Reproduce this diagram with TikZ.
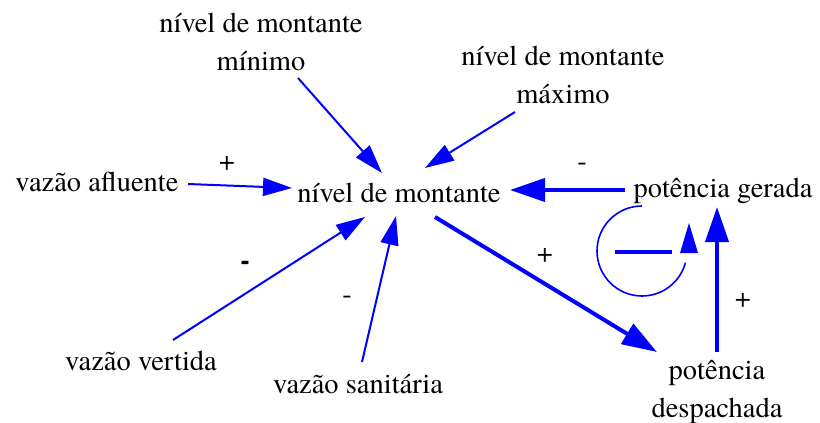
\documentclass[tikz,border=0pt]{standalone}
\usepackage{fontspec}
\setmainfont{texgyretermes-regular.otf}[BoldFont=texgyretermes-bold.otf]
\usetikzlibrary{arrows.meta,calc}
\begin{document}
\begin{tikzpicture}[x=1pt,y=-1pt,
  lbl/.style={inner sep=0pt,font=\fontsize{28.5}{38}\selectfont,text height=19pt,text depth=6pt},
  lbl2/.style={inner sep=0pt,font=\fontsize{28.5}{38}\selectfont,align=center},
  sgn/.style={inner sep=0pt,font=\fontsize{28.5}{34}\selectfont},
  thinarr/.style={draw=blue,line width=2pt,-{Triangle[length=29pt,width=18pt]}},
  thickarr/.style={draw=blue,line width=4pt,-{Triangle[length=35pt,width=23pt]}}]
\useasboundingbox (0,0) rectangle (820,423);
% nodes
\node[lbl] (M) at (399,195.5) {nível de montante};
\node[lbl2] (min) at (261,42) {nível de montante\\mínimo};
\node[lbl2] (max) at (563,75) {nível de montante\\máximo};
\node[lbl] (af) at (97,184.5) {vazão afluente};
\node[lbl] (vv) at (141,363.5) {vazão vertida};
\node[lbl] (vs) at (358,386.5) {vazão sanitária};
\node[lbl] (pg) at (723,190.5) {potência gerada};
\node[lbl2] (pd) at (717,392) {potência\\despachada};
% signs
\node[sgn] (s1) at (227,163) {+};
\node[sgn] (s2) at (582,167) {-};
\node[sgn] (s3) at (545,255) {+};
\node[sgn,font=\fontsize{28.5}{34}\selectfont\bfseries] (s4) at (245,265) {-};
\node[sgn] (s5) at (347,300) {-};
\node[sgn] (s6) at (743,300) {+};
% connectors
\draw[thinarr] ($(min.center)+(37,36)$) -- ($(M.center)+(-17,-22.5)$);
\draw[thinarr] ($(max.center)+(-48,37)$) -- ($(M.center)+(26,-27.5)$);
\draw[thinarr] ($(af.center)+(91,-0.5)$) -- ($(M.center)+(-107,-7.5)$);
\draw[thinarr] ($(vv.center)+(32,-23.5)$) -- ($(M.center)+(-34,21.5)$);
\draw[thinarr] ($(vs.center)+(4,-24.5)$) -- ($(M.center)+(-3,20.5)$);
\draw[thickarr] ($(M.center)+(36,21.5)$) -- ($(pd.center)+(-60,-40)$);
\draw[thickarr] ($(pg.center)+(-98,-0.5)$) -- ($(M.center)+(111,-5.5)$);
\draw[thickarr] ($(pd.center)+(0,-40)$) -- ($(pg.center)+(-6,16.5)$);
% loop symbol
\coordinate (lc) at (642,251);
\draw[blue,line width=1.6pt] ($(lc)+(270:45)$) arc[start angle=270,end angle=15,radius=45];
\fill[blue] (689,223) -- (698,253) -- (680,253) -- cycle;
\draw[blue,line width=4pt] (615,252) -- (672,252);
\end{tikzpicture}
\end{document}
